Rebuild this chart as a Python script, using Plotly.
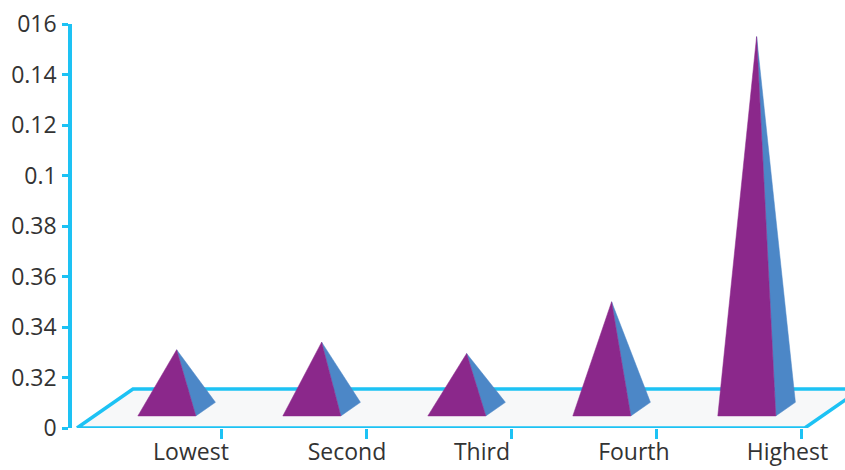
import plotly.graph_objects as go

# ---- data ----
categories = ["Lowest", "Second", "Third", "Fourth", "Highest"]
values = [0.031, 0.034, 0.0295, 0.050, 0.155]
ytick_vals = [0, 0.02, 0.04, 0.06, 0.08, 0.10, 0.12, 0.14, 0.16]
ytick_text = ["0", "0.32", "0.34", "0.36", "0.38", "0.1", "0.12", "0.14", "016"]

# ---- style / layout constants ----
PURPLE = "#8B288B"
BLUE = "#4C87C7"
CYAN = "#1DC2F4"
FLOOR = "#F7F8F9"
TEXT = "#333333"
FONT = "Open Sans"

DEPTH_DX = 0.386      # floor depth in x units
DEPTH_DY = 0.0154     # floor depth in y units
FRONT_FRAC = 0.31     # depth fraction where pyramid front sits
PYR_DEPTH = 0.35      # pyramid depth as fraction of floor depth
HALF_W = 0.2          # pyramid half width (x units)
FLOOR_END = 5.02
LABEL_NUDGE = [0.286, 0.362, 0.293, 0.341, 0.40]

fig = go.Figure()

# floor
fig.add_trace(go.Scatter(x=[0, DEPTH_DX, FLOOR_END + DEPTH_DX, FLOOR_END, 0],
                         y=[0, DEPTH_DY, DEPTH_DY, 0, 0],
                         mode="lines", fill="toself", fillcolor=FLOOR,
                         line=dict(color=CYAN, width=3.5), hoverinfo="skip",
                         showlegend=False))

# pyramids
for i, (cat, v) in enumerate(zip(categories, values)):
    c = i + 0.5 + FRONT_FRAC * DEPTH_DX
    yb = FRONT_FRAC * DEPTH_DY
    ddx = PYR_DEPTH * DEPTH_DX
    ddy = PYR_DEPTH * DEPTH_DY
    apex_x = c + ddx / 2
    # right (side) face
    fig.add_trace(go.Scatter(x=[c + HALF_W, c + HALF_W + ddx, apex_x, c + HALF_W],
                             y=[yb, yb + ddy, v, yb],
                             mode="lines", fill="toself", fillcolor=BLUE,
                             line=dict(color=BLUE, width=0.5), hoverinfo="skip",
                             showlegend=False))
    # front face
    fig.add_trace(go.Scatter(x=[c - HALF_W, c + HALF_W, apex_x, c - HALF_W],
                             y=[yb, yb, v, yb],
                             mode="lines", fill="toself", fillcolor=PURPLE,
                             line=dict(color=PURPLE, width=0.5), hoverinfo="skip",
                             showlegend=False, name=cat))

# invisible trace on xaxis2 so it renders
fig.add_trace(go.Scatter(x=[0], y=[0], xaxis="x2", mode="markers",
                         marker=dict(opacity=0), hoverinfo="skip", showlegend=False))

xr = [-0.0345, 5.297]
fig.update_layout(
    width=845, height=470,
    margin=dict(l=72, r=0, t=24, b=42),
    paper_bgcolor="white", plot_bgcolor="white",
    font=dict(family=FONT, color=TEXT),
    xaxis=dict(range=xr, tickvals=[1, 2, 3, 4, 5], ticktext=[""] * 5,
               ticks="outside", ticklen=10, tickwidth=3, tickcolor=CYAN,
               showgrid=False, zeroline=False, showline=False, fixedrange=True,
               automargin=False),
    xaxis2=dict(range=xr, overlaying="x", anchor="y", side="bottom",
                tickvals=[i + 0.5 + n for i, n in enumerate(LABEL_NUDGE)],
                ticktext=categories,
                ticks="", showgrid=False, zeroline=False, showline=False,
                tickfont=dict(size=23, family=FONT, color=TEXT),
                ticklabelstandoff=8, fixedrange=True, automargin=False),
    yaxis=dict(range=[0, 0.16], tickvals=ytick_vals, ticktext=ytick_text,
               ticks="outside", ticklen=6, tickwidth=3, tickcolor=CYAN,
               showline=True, linecolor=CYAN, linewidth=3.5,
               showgrid=False, zeroline=False,
               tickfont=dict(size=23, family=FONT, color=TEXT),
               ticklabelstandoff=1, fixedrange=True, automargin=False),
    showlegend=False,
)

fig.write_html("out.html", config={"displayModeBar": False})
